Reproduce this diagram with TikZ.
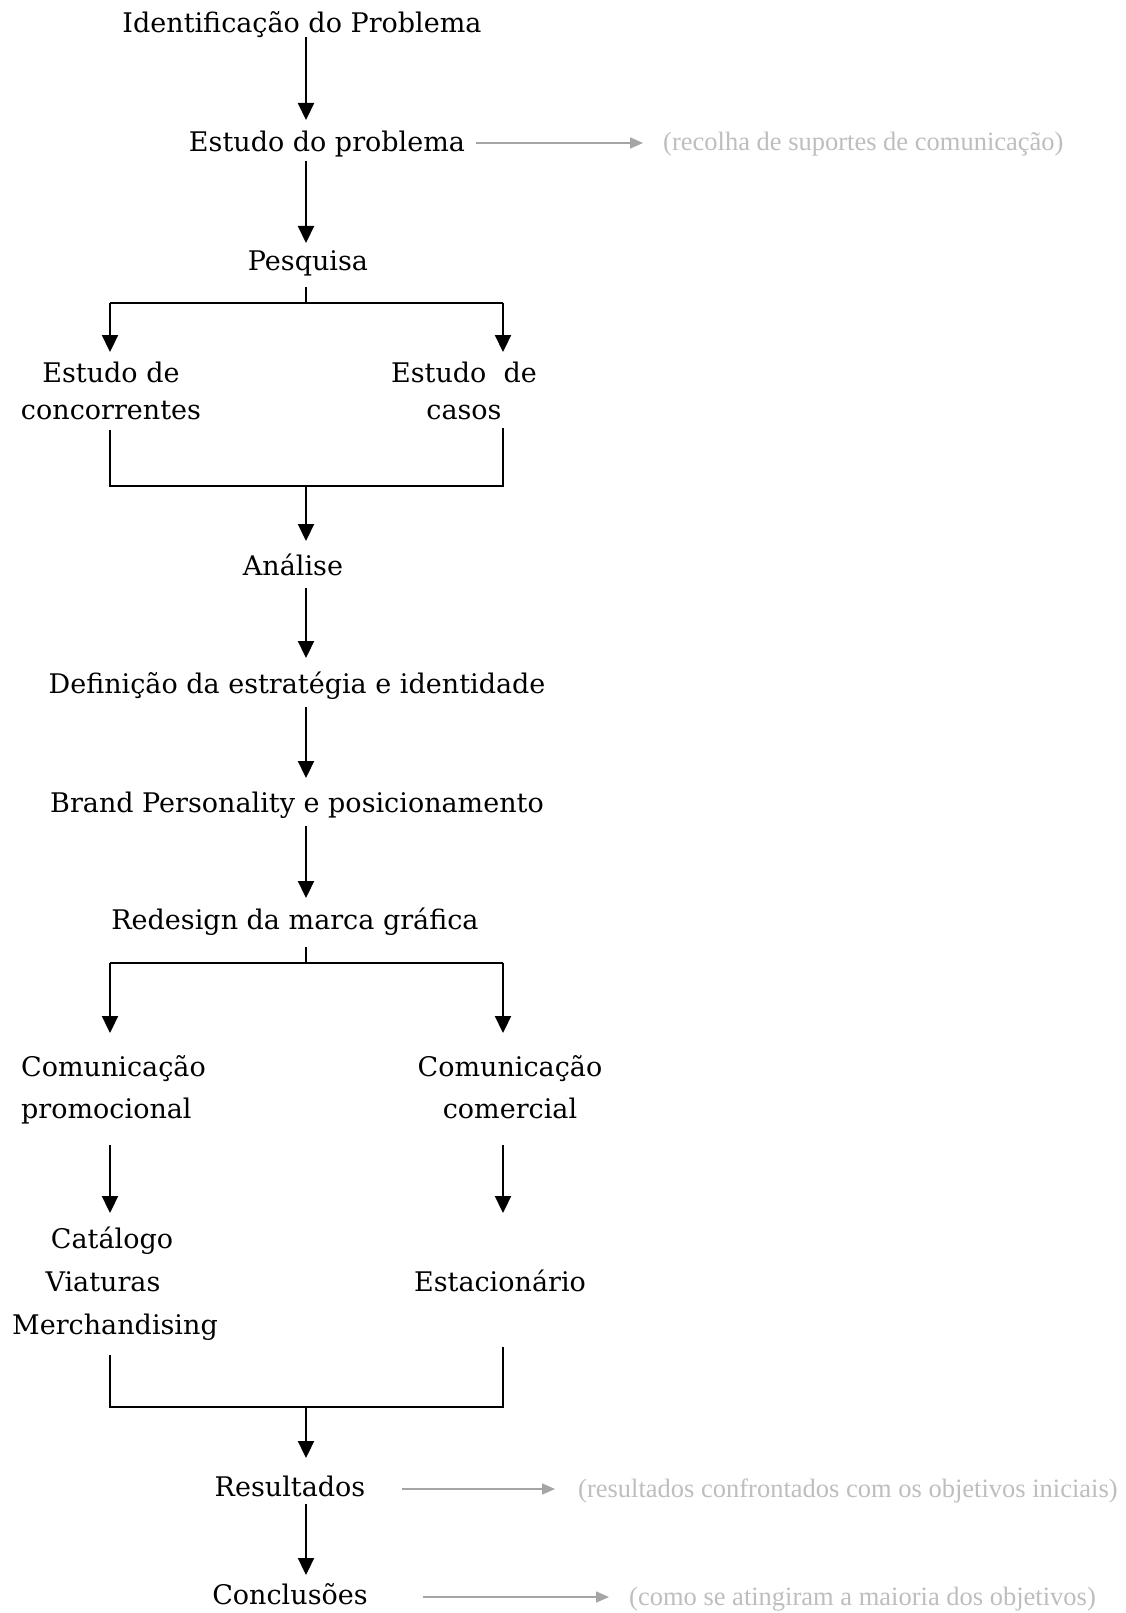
\documentclass[tikz,border=0pt]{standalone}
\usepackage{fontspec}
\setmainfont{DejaVu Serif}
\newfontfamily\grayfont{Liberation Serif}
\usetikzlibrary{arrows.meta,calc}
\definecolor{notegray}{RGB}{190,190,190}
\definecolor{arrowgray}{RGB}{165,165,165}
\begin{document}
\begin{tikzpicture}[x=1pt,y=-1pt,
  lbl/.style={inner sep=0pt, anchor=base, font=\fontsize{27}{37}\selectfont},
  note/.style={inner sep=0pt, anchor=base west, text=notegray, font=\grayfont\fontsize{26.5}{30}\selectfont},
  arr/.style={line width=2.2pt, -{Triangle[width=16pt,length=17pt]}},
  garr/.style={line width=1.6pt, draw=arrowgray, -{Triangle[width=11pt,length=13pt,fill=arrowgray]}},
  ln/.style={line width=2.2pt},
]
\useasboundingbox (0,0) rectangle (1126,1613);
\fill[white] (0,0) rectangle (1126,1613);

\coordinate (sp) at (306,0);
\coordinate (lx) at (110,0);
\coordinate (rx) at (503,0);

% nodes (multi-line nodes: base = baseline of last line)
\node[lbl] (ident) at (302,33) {Identificação do Problema};
\node[lbl] (estudo) at (327,152) {Estudo do problema};
\node[note] (recolha) at (663,151) {(recolha de suportes de comunicação)};
\node[lbl] (pesq) at (308,270) {Pesquisa};
\node[lbl, align=center] (conc) at (111,419) {Estudo de\\concorrentes};
\node[lbl, align=center] (casos) at (464,419) {Estudo\ \ de\\casos};
\node[lbl] (anal) at (293,575) {Análise};
\node[lbl] (defi) at (297,693) {Definição da estratégia e identidade};
\node[lbl] (brand) at (297,812) {Brand Personality e posicionamento};
\node[lbl] (redes) at (295,929) {Redesign da marca gráfica};
\node[lbl, anchor=base west, align=left, font=\fontsize{27}{42}\selectfont] (promo) at (21,1118) {Comunicação\\promocional};
\node[lbl, align=center, font=\fontsize{27}{42}\selectfont] (comer) at (510,1118) {Comunicação\\comercial};
\node[lbl, align=center, font=\fontsize{27}{43}\selectfont] (cat) at (115,1334) {Catálogo\rule{6pt}{0pt}\\Viaturas\rule{24pt}{0pt}\\Merchandising};
\node[lbl] (estac) at (500,1291) {Estacionário};
\node[lbl] (resul) at (290,1496) {Resultados};
\node[note] (rnote) at (578,1497) {(resultados confrontados com os objetivos iniciais)};
\node[lbl] (concl) at (290,1604) {Conclusões};
\node[note] (cnote) at (629,1605) {(como se atingiram a maioria dos objetivos)};

% junction coordinates
\coordinate (b1) at (306,303);
\coordinate (b2) at (306,486);
\coordinate (b3) at (306,963);
\coordinate (b4) at (306,1407);

% main spine arrows
\draw[arr] ($(ident.base -| sp)+(0,4)$) -- ($(estudo.base -| sp)+(0,-32)$);
\draw[arr] ($(estudo.base -| sp)+(0,9)$) -- ($(pesq.base -| sp)+(0,-27)$);

% first fork
\draw[ln] ($(pesq.base -| sp)+(0,17)$) -- (b1);
\draw[ln] (b1 -| lx) -- (b1 -| rx);
\draw[arr] (b1 -| lx) -- ($(conc.base -| lx)+(0,-67)$);
\draw[arr] (b1 -| rx) -- ($(casos.base -| rx)+(0,-67)$);

% first join
\draw[ln] ($(conc.base -| lx)+(0,11)$) -- (b2 -| lx) -- (b2 -| rx) -- ($(casos.base -| rx)+(0,9)$);
\draw[arr] (b2) -- ($(anal.base -| sp)+(0,-34)$);

\draw[arr] ($(anal.base -| sp)+(0,13)$) -- ($(defi.base -| sp)+(0,-35)$);
\draw[arr] ($(defi.base -| sp)+(0,14)$) -- ($(brand.base -| sp)+(0,-34)$);
\draw[arr] ($(brand.base -| sp)+(0,14)$) -- ($(redes.base -| sp)+(0,-31)$);

% second fork
\draw[ln] ($(redes.base -| sp)+(0,18)$) -- (b3);
\draw[ln] (b3 -| lx) -- (b3 -| rx);
\draw[arr] (b3 -| lx) -- ($(promo.base -| lx)+(0,-85)$);
\draw[arr] (b3 -| rx) -- ($(comer.base -| rx)+(0,-85)$);

\draw[arr] ($(promo.base -| lx)+(0,27)$) -- ($(cat.base -| lx)+(0,-121)$);
\draw[arr] ($(comer.base -| rx)+(0,27)$) -- ($(estac.base -| rx)+(0,-78)$);

% second join
\draw[ln] ($(cat.base -| lx)+(0,21)$) -- (b4 -| lx) -- (b4 -| rx) -- ($(estac.base -| rx)+(0,56)$);
\draw[arr] (b4) -- ($(resul.base -| sp)+(0,-38)$);
\draw[arr] ($(resul.base -| sp)+(0,8)$) -- ($(concl.base -| sp)+(0,-29)$);

% gray side arrows
\draw[garr] ($(estudo.base east)+(11,-9)$) -- ($(recolha.base west)+(-20,-8)$);
\draw[garr] ($(resul.base east)+(37,-7)$) -- ($(rnote.base west)+(-23,-8)$);
\draw[garr] ($(concl.base east)+(55,-7)$) -- ($(cnote.base west)+(-20,-8)$);
\end{tikzpicture}
\end{document}
